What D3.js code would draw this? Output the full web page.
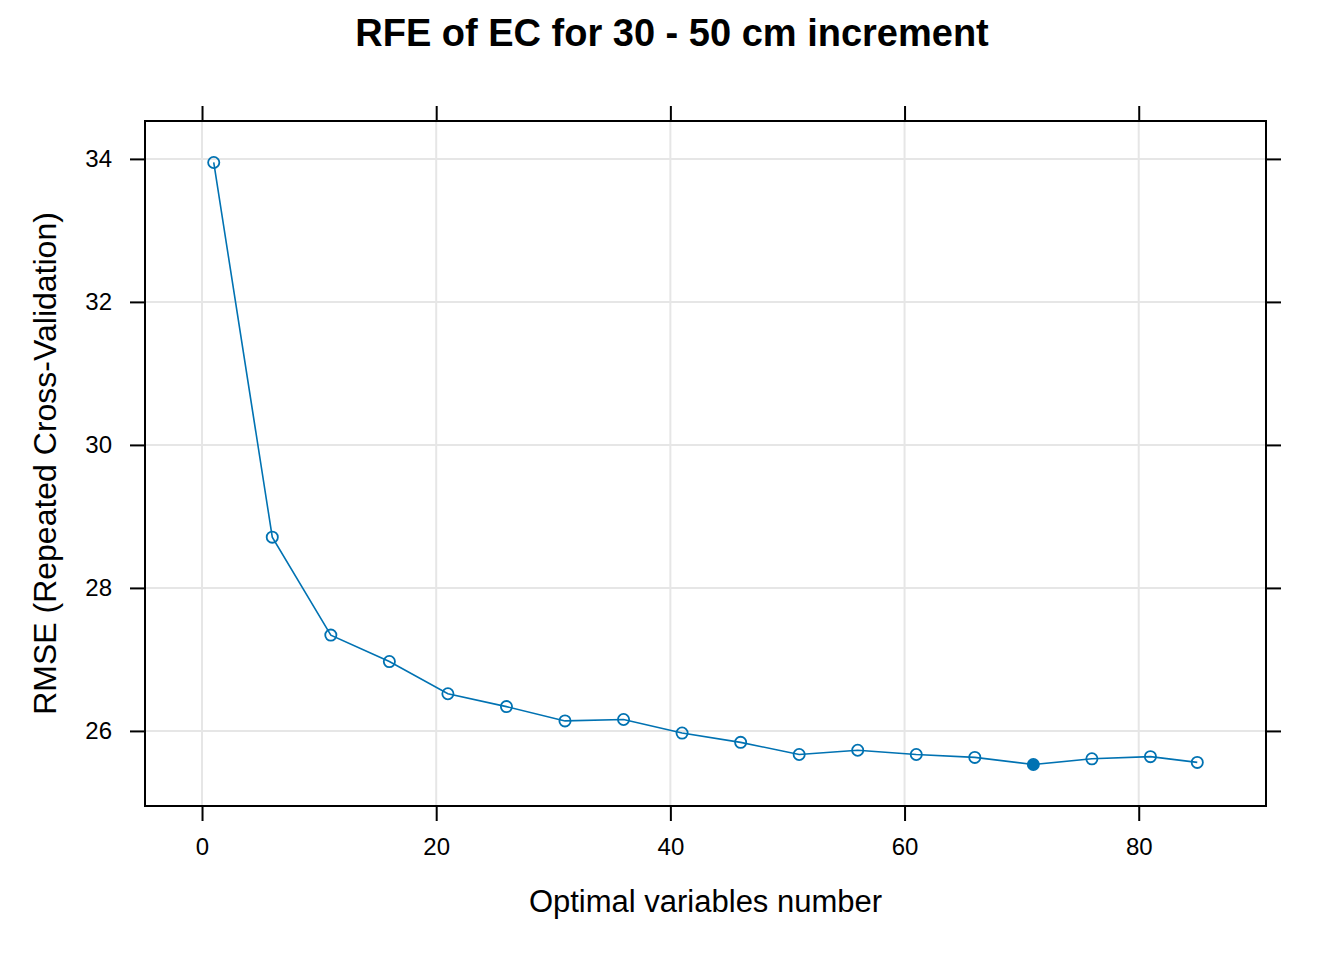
<!DOCTYPE html>
<html>
<head>
<meta charset="utf-8">
<script src="https://cdn.jsdelivr.net/npm/d3@7"></script>
<style>
  body { margin: 0; background: #fff; }
  text { font-family: "Liberation Sans", Arial, sans-serif; }
</style>
</head>
<body>
<div id="chart"></div>
<script>
// number of variables tried by RFE
var variables = [1, 6, 11, 16, 21, 26, 31, 36, 41, 46, 51, 56, 61, 66, 71, 76, 81, 85];
// RMSE from repeated cross-validation
var rmse = [33.95, 28.71, 27.34, 26.97, 26.52, 26.34, 26.14, 26.16, 25.97, 25.84,
            25.67, 25.73, 25.67, 25.63, 25.53, 25.61, 25.64, 25.56];
var bestVariables = 71;
var xTicks = [0, 20, 40, 60, 80];
var yTicks = [26, 28, 30, 32, 34];

var width = 1344, height = 960;
var panelLeft = 145, panelRight = 1266, panelTop = 121, panelBottom = 806;
var color = "#0072B2";

var svg = d3.select("#chart").append("svg")
  .attr("width", width)
  .attr("height", height);

var x = d3.scaleLinear().domain([-4.87, 90.87]).range([panelLeft, panelRight]);
var y = d3.scaleLinear().domain([24.95, 34.53]).range([panelBottom, panelTop]);

// grid
svg.append("g").selectAll("line").data(xTicks).enter().append("line")
  .attr("x1", d => x(d)).attr("x2", d => x(d))
  .attr("y1", panelTop).attr("y2", panelBottom)
  .attr("stroke", "#e6e6e6").attr("stroke-width", 2);
svg.append("g").selectAll("line").data(yTicks).enter().append("line")
  .attr("y1", d => y(d)).attr("y2", d => y(d))
  .attr("x1", panelLeft).attr("x2", panelRight)
  .attr("stroke", "#e6e6e6").attr("stroke-width", 2);

// axes, ticks point outward on all four sides
var tickLen = 15;
function styleAxis(g) {
  g.select(".domain").remove();
  g.attr("font-size", 24).attr("font-family", "'Liberation Sans', Arial, sans-serif");
  g.selectAll(".tick line").attr("stroke", "#000").attr("stroke-width", 2);
  g.selectAll(".tick text").attr("fill", "#000");
}
svg.append("g").attr("transform", "translate(0," + panelBottom + ")")
  .call(d3.axisBottom(x).tickValues(xTicks).tickSize(tickLen).tickPadding(17))
  .call(styleAxis);
svg.append("g").attr("transform", "translate(0," + panelTop + ")")
  .call(d3.axisTop(x).tickValues(xTicks).tickSize(tickLen).tickFormat(""))
  .call(styleAxis);
svg.append("g").attr("transform", "translate(" + panelLeft + ",0)")
  .call(d3.axisLeft(y).tickValues(yTicks).tickSize(tickLen).tickPadding(18))
  .call(styleAxis);
svg.append("g").attr("transform", "translate(" + panelRight + ",0)")
  .call(d3.axisRight(y).tickValues(yTicks).tickSize(tickLen).tickFormat(""))
  .call(styleAxis);

// panel border
svg.append("rect")
  .attr("x", panelLeft).attr("y", panelTop)
  .attr("width", panelRight - panelLeft).attr("height", panelBottom - panelTop)
  .attr("fill", "none").attr("stroke", "#000").attr("stroke-width", 2);

var pts = variables.map((v, i) => [v, rmse[i]]);

svg.append("path")
  .datum(pts)
  .attr("fill", "none")
  .attr("stroke", color)
  .attr("stroke-width", 1.6)
  .attr("d", d3.line().x(d => x(d[0])).y(d => y(d[1])));

svg.append("g").selectAll("circle").data(pts).enter().append("circle")
  .attr("cx", d => x(d[0]))
  .attr("cy", d => y(d[1]))
  .attr("r", 5.6)
  .attr("fill", d => d[0] === bestVariables ? color : "none")
  .attr("stroke", color)
  .attr("stroke-width", 1.8);

// titles
svg.append("text")
  .attr("x", 672).attr("y", 46)
  .attr("text-anchor", "middle")
  .attr("font-size", 38).attr("font-weight", "bold")
  .text("RFE of EC for 30 - 50 cm increment");

svg.append("text")
  .attr("x", (panelLeft + panelRight) / 2).attr("y", 912)
  .attr("text-anchor", "middle")
  .attr("font-size", 31)
  .text("Optimal variables number");

svg.append("text")
  .attr("transform", "translate(56," + ((panelTop + panelBottom) / 2) + ") rotate(-90)")
  .attr("text-anchor", "middle")
  .attr("font-size", 32)
  .text("RMSE (Repeated Cross-Validation)");
</script>
</body>
</html>
